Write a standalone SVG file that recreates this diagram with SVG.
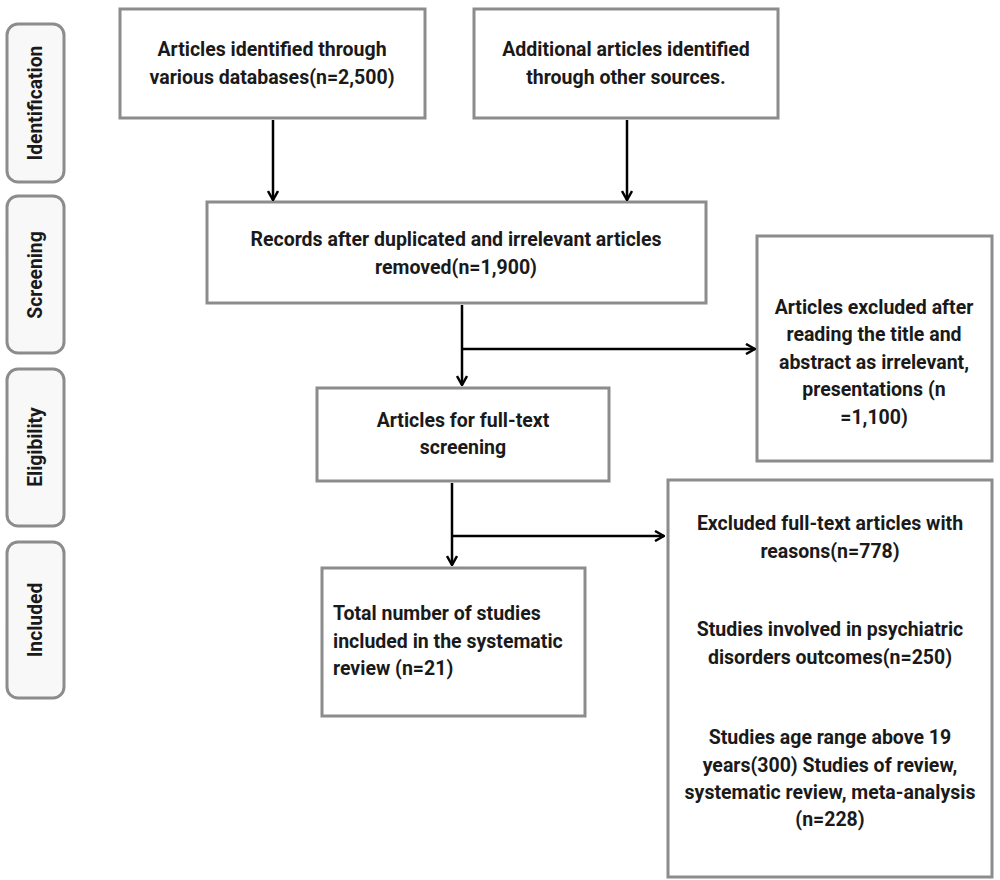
<svg xmlns="http://www.w3.org/2000/svg" width="1000" height="880" viewBox="0 0 1000 880">
<defs>
<style>
.box{fill:#ffffff;stroke:#8c8c8c;stroke-width:3}
.side{fill:#f8f8f8;stroke:#8c8c8c;stroke-width:3}
.t{font-family:Roboto,"Liberation Sans",sans-serif;font-weight:700;font-size:19.5px;fill:#1a1a1a}
.s{font-size:19.3px}
.c{text-anchor:middle}
.con{fill:none;stroke:#000;stroke-width:2.5}
</style>
<marker id="arr" viewBox="0 0 12 12" refX="11" refY="6" markerWidth="12" markerHeight="12" markerUnits="userSpaceOnUse" orient="auto">
<path d="M2,1 L11,6 L2,11" fill="none" stroke="#000" stroke-width="2.5"/>
</marker>
</defs>
<rect width="1000" height="880" fill="#ffffff"/>
<g id="side-identification">
<rect class="side" x="7" y="24" width="57" height="158" rx="11"/>
<text class="t s c" transform="translate(42,103) rotate(-90)">Identification</text>
</g>
<g id="side-screening">
<rect class="side" x="7" y="196" width="57" height="157" rx="11"/>
<text class="t s c" transform="translate(42,275) rotate(-90)">Screening</text>
</g>
<g id="side-eligibility">
<rect class="side" x="7" y="369" width="57" height="157" rx="11"/>
<text class="t s c" transform="translate(42,447) rotate(-90)">Eligibility</text>
</g>
<g id="side-included">
<rect class="side" x="7" y="542" width="57" height="156" rx="11"/>
<text class="t s c" transform="translate(42,620) rotate(-90)">Included</text>
</g>
<g id="n-databases">
<rect class="box" x="120" y="9" width="305" height="109"/>
<text class="t c" x="272" y="56">Articles identified through</text>
<text class="t c" x="272" y="84">various databases(n=2,500)</text>
</g>
<g id="n-other">
<rect class="box" x="474" y="9" width="304" height="109"/>
<text class="t c" x="626" y="56">Additional articles identified</text>
<text class="t c" x="626" y="84">through other sources.</text>
</g>
<g id="n-records">
<rect class="box" x="207" y="202" width="499" height="101"/>
<text class="t c" x="456" y="246">Records after duplicated and irrelevant articles</text>
<text class="t c" x="456" y="274">removed(n=1,900)</text>
</g>
<g id="n-excluded1">
<rect class="box" x="757" y="236" width="235" height="225"/>
<text class="t c" x="874" y="314">Articles excluded after</text>
<text class="t c" x="874" y="341">reading the title and</text>
<text class="t c" x="874" y="369">abstract as irrelevant,</text>
<text class="t c" x="874" y="396">presentations (n</text>
<text class="t c" x="874" y="424">=1,100)</text>
</g>
<g id="n-fulltext">
<rect class="box" x="317" y="388" width="292" height="93"/>
<text class="t c" x="463" y="427">Articles for full-text</text>
<text class="t c" x="463" y="454">screening</text>
</g>
<g id="n-included">
<rect class="box" x="322" y="568" width="263" height="148"/>
<text class="t" x="333" y="620">Total number of studies</text>
<text class="t" x="333" y="648">included in the systematic</text>
<text class="t" x="333" y="675">review (n=21)</text>
</g>
<g id="n-excluded2">
<rect class="box" x="668" y="480" width="324" height="397"/>
<text class="t c" x="830" y="530">Excluded full-text articles with</text>
<text class="t c" x="830" y="558">reasons(n=778)</text>
<text class="t c" x="830" y="636">Studies involved in psychiatric</text>
<text class="t c" x="830" y="664">disorders outcomes(n=250)</text>
<text class="t c" x="830" y="744">Studies age range above 19</text>
<text class="t c" x="830" y="772">years(300) Studies of review,</text>
<text class="t c" x="830" y="799">systematic review, meta-analysis</text>
<text class="t c" x="830" y="826">(n=228)</text>
</g>
<g id="connectors">
<line class="con" x1="273" y1="120" x2="273" y2="200" marker-end="url(#arr)"/>
<line class="con" x1="627" y1="120" x2="627" y2="200" marker-end="url(#arr)"/>
<line class="con" x1="462" y1="305" x2="462" y2="385" marker-end="url(#arr)"/>
<line class="con" x1="462" y1="349" x2="755" y2="349" marker-end="url(#arr)"/>
<line class="con" x1="452" y1="483" x2="452" y2="565" marker-end="url(#arr)"/>
<line class="con" x1="452" y1="536" x2="664" y2="536" marker-end="url(#arr)"/>
</g>
</svg>
